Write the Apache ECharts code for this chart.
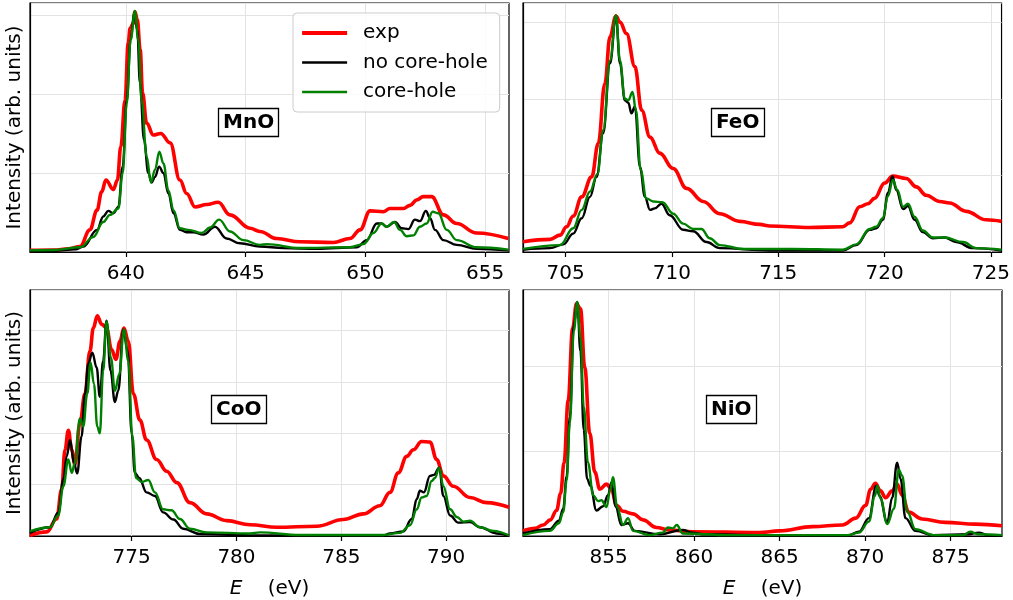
<!DOCTYPE html>
<html>
<head>
<meta charset="utf-8">
<script src="https://cdn.jsdelivr.net/npm/echarts@6/dist/echarts.min.js"></script>
<style>html,body{margin:0;padding:0;background:#fff;}#c{width:1013px;height:600px;}</style>
</head>
<body>
<div id="c"></div>
<script>
// ---------- data (E in eV, intensity in arb. units) ----------
const seriesNames = ['exp', 'no core-hole', 'core-hole'];
const panelLabels = ['MnO', 'FeO', 'CoO', 'NiO'];

const mnoTicks = [640, 645, 650, 655];
const feoTicks = [705, 710, 715, 720, 725];
const cooTicks = [775, 780, 785, 790];
const nioTicks = [855, 860, 865, 870, 875];

const mnoExp = [[636,0.02],[637,0.025],[637.6,0.04],[638.09,0.07],[638.5,0.28],[638.8,0.53],[638.99,0.76],[639.17,0.91],[639.48,0.79],[639.65,0.91],[639.79,1.33],[639.97,1.92],[640.1,2.64],[640.18,2.83],[640.31,2.89],[640.38,3.04],[640.48,2.94],[640.6,2.56],[640.7,2.01],[640.87,1.63],[641.15,1.48],[641.46,1.50],[641.85,1.38],[642.26,0.91],[642.54,0.74],[642.89,0.57],[643.38,0.60],[643.86,0.63],[644.35,0.47],[645.19,0.30],[645.6,0.26],[646.3,0.17],[647.27,0.13],[648.66,0.12],[649.36,0.17],[649.78,0.28],[650.2,0.52],[650.75,0.51],[651.03,0.55],[651.59,0.55],[651.87,0.59],[652.15,0.66],[652.42,0.70],[652.77,0.70],[653.26,0.47],[653.82,0.36],[654.65,0.24],[655.97,0.17]];
const mnoNoCH = [[636,0.01],[637,0.015],[637.9,0.034],[638.23,0.07],[638.8,0.28],[639.06,0.45],[639.27,0.52],[639.48,0.49],[639.69,0.57],[639.87,1.08],[640.04,1.92],[640.2,2.68],[640.35,3.02],[640.48,2.81],[640.59,2.14],[640.76,1.42],[640.94,1.0],[641.08,0.88],[641.22,0.95],[641.39,1.08],[641.57,1.0],[641.78,0.74],[641.99,0.49],[642.26,0.28],[642.54,0.25],[642.82,0.25],[643.24,0.22],[643.72,0.32],[644.21,0.17],[644.77,0.11],[645.6,0.07],[646.58,0.05],[647.97,0.04],[649.64,0.06],[650.06,0.15],[650.48,0.36],[650.68,0.36],[650.89,0.32],[651.24,0.38],[651.52,0.30],[651.8,0.29],[652.07,0.41],[652.28,0.39],[652.53,0.52],[652.7,0.43],[652.91,0.28],[653.26,0.15],[653.82,0.09],[654.65,0.04],[655.97,0.02]];
const mnoCH = [[636,0.02],[637,0.025],[638.1,0.06],[638.64,0.19],[639.06,0.38],[639.34,0.47],[639.69,0.55],[639.87,1.0],[640.04,1.88],[640.2,2.68],[640.38,3.05],[640.52,2.68],[640.66,1.92],[640.87,1.21],[641.05,0.88],[641.22,1.04],[641.4,1.27],[641.57,1.12],[641.78,0.78],[641.99,0.53],[642.26,0.30],[642.61,0.28],[643.17,0.24],[643.52,0.31],[643.9,0.41],[644.35,0.26],[644.91,0.15],[645.6,0.09],[645.88,0.10],[647.27,0.05],[649.36,0.06],[649.92,0.10],[650.34,0.24],[650.68,0.36],[650.89,0.32],[651.2,0.38],[651.45,0.28],[651.73,0.20],[652.01,0.21],[652.28,0.32],[652.56,0.36],[652.81,0.51],[653.05,0.49],[653.4,0.28],[653.82,0.15],[654.65,0.06],[655.97,0.03]];

const feoExp = [[703,0.134],[704.27,0.165],[704.74,0.22],[705.05,0.33],[705.36,0.47],[705.76,0.72],[706.23,0.98],[706.54,1.42],[706.85,2.2],[707.09,2.81],[707.37,3.08],[707.56,3.0],[707.87,2.85],[708.26,2.42],[708.58,1.85],[708.97,1.50],[709.43,1.29],[710.06,1.09],[710.69,0.83],[711.47,0.66],[712.25,0.50],[713.19,0.40],[714.13,0.36],[714.6,0.34],[716.48,0.32],[718.04,0.33],[718.36,0.38],[718.83,0.59],[719.22,0.63],[719.53,0.70],[720.0,0.90],[720.39,0.99],[721.02,0.96],[721.49,0.85],[721.96,0.74],[722.59,0.66],[723.06,0.64],[723.84,0.53],[724.78,0.42],[725.5,0.40]];
const feoNoCH = [[703,0.03],[704.27,0.05],[704.9,0.10],[705.36,0.24],[705.76,0.44],[706.15,0.72],[706.46,0.98],[706.77,1.55],[707.09,2.46],[707.37,3.07],[707.56,2.46],[707.79,1.98],[707.95,1.95],[708.1,1.81],[708.26,1.90],[708.5,1.11],[708.73,0.72],[708.97,0.55],[709.2,0.57],[709.51,0.63],[709.9,0.48],[710.53,0.29],[711.0,0.27],[711.63,0.13],[712.25,0.05],[714.6,0.02],[718.04,0.02],[718.67,0.09],[719.3,0.29],[719.61,0.31],[719.92,0.42],[720.16,0.77],[720.37,0.99],[720.55,0.81],[720.87,0.56],[721.1,0.60],[721.41,0.42],[721.8,0.26],[722.27,0.18],[722.82,0.19],[723.37,0.13],[724.15,0.05],[725.5,0.02]];
const feoCH = [[703,0.04],[704.74,0.09],[705.36,0.31],[705.76,0.55],[706.15,0.79],[706.5,1.02],[706.77,1.59],[707.09,2.5],[707.37,3.09],[707.56,2.5],[707.79,2.0],[707.95,1.98],[708.15,2.09],[708.31,1.85],[708.53,1.07],[708.8,0.70],[709.12,0.66],[709.55,0.65],[710.06,0.50],[710.53,0.37],[711.0,0.30],[711.39,0.30],[711.78,0.18],[712.25,0.09],[713.35,0.04],[715.7,0.04],[718.04,0.03],[718.67,0.10],[719.3,0.30],[719.61,0.33],[719.92,0.44],[720.16,0.73],[720.39,0.94],[720.6,0.81],[720.87,0.59],[721.1,0.63],[721.41,0.46],[721.8,0.28],[722.27,0.19],[722.82,0.19],[723.69,0.13],[724.31,0.05],[725.5,0.03]];

const cooExp = [[770.15,0.01],[770.95,0.08],[771.42,0.33],[771.66,0.91],[771.82,1.68],[771.98,2.06],[772.14,1.68],[772.29,1.39],[772.53,2.19],[772.77,2.77],[773.01,3.60],[773.17,4.05],[773.36,4.29],[773.57,4.12],[773.8,4.05],[774.04,3.63],[774.25,3.44],[774.44,3.79],[774.63,4.05],[774.84,3.79],[775.08,2.77],[775.39,2.26],[775.71,1.87],[776.19,1.49],[776.67,1.26],[777.15,1.04],[777.78,0.65],[778.58,0.43],[779.53,0.30],[780.65,0.22],[781.92,0.17],[783.83,0.19],[785.1,0.32],[786.05,0.43],[786.84,0.59],[787.32,0.85],[787.72,1.23],[788.12,1.55],[788.44,1.68],[788.83,1.84],[789.23,1.83],[789.55,1.49],[789.87,1.17],[790.34,0.97],[791.14,0.75],[791.93,0.65],[793,0.56]];
const cooNoCH = [[770.15,0.06],[771.1,0.17],[771.5,0.46],[771.74,1.10],[771.9,1.55],[772.06,1.87],[772.25,1.42],[772.4,1.22],[772.61,1.94],[772.77,2.77],[772.93,3.35],[773.12,3.57],[773.33,3.28],[773.48,2.71],[773.64,3.41],[773.8,4.19],[773.99,3.22],[774.2,2.61],[774.36,2.83],[774.6,4.02],[774.81,3.60],[775.0,2.0],[775.15,1.23],[775.36,1.13],[775.71,0.85],[776.11,0.78],[776.5,0.46],[776.99,0.32],[777.46,0.14],[778.25,0.04],[781,0.01],[787,0.01],[787.32,0.05],[787.96,0.09],[788.36,0.33],[788.6,0.72],[788.75,0.88],[788.94,0.85],[789.23,1.17],[789.42,1.19],[789.67,1.33],[789.87,0.78],[790.19,0.40],[790.58,0.26],[791.14,0.27],[791.61,0.17],[792.41,0.05],[793,0.01]];
const cooCH = [[770.15,0.09],[771.1,0.17],[771.5,0.40],[771.74,0.97],[771.98,1.49],[772.14,1.23],[772.29,1.42],[772.53,2.29],[772.69,2.13],[772.88,2.77],[773.04,3.38],[773.2,2.96],[773.36,2.13],[773.48,2.0],[773.64,3.22],[773.8,4.18],[774.01,3.47],[774.2,2.83],[774.41,3.15],[774.63,4.02],[774.84,3.41],[775.03,1.94],[775.21,1.13],[775.48,1.05],[775.79,1.09],[776.11,0.85],[776.5,0.52],[776.9,0.50],[777.3,0.33],[777.78,0.14],[778.58,0.07],[780.65,0.05],[781.12,0.07],[783.03,0.02],[787.0,0.02],[787.8,0.06],[788.28,0.21],[788.6,0.52],[788.83,0.75],[789.07,0.78],[789.31,1.07],[789.47,1.13],[789.67,1.33],[789.87,0.97],[790.19,0.52],[790.51,0.37],[790.83,0.28],[791.14,0.30],[791.61,0.17],[792.25,0.10],[793,0.01]];

const nioExp = [[850,0.06],[850.7,0.09],[851.18,0.13],[851.6,0.19],[851.96,0.30],[852.2,0.50],[852.4,0.86],[852.64,1.59],[852.9,2.44],[853.13,2.73],[853.36,2.67],[853.61,1.98],[853.9,1.21],[854.2,0.75],[854.49,0.55],[854.88,0.61],[855.17,0.55],[855.46,0.36],[855.85,0.29],[856.43,0.26],[857.01,0.19],[857.79,0.10],[858.57,0.07],[859.92,0.05],[863.81,0.04],[864.98,0.06],[866.92,0.11],[868.67,0.13],[869.45,0.21],[870.03,0.36],[870.32,0.55],[870.6,0.62],[870.9,0.53],[871.19,0.45],[871.58,0.53],[871.87,0.61],[872.16,0.48],[872.55,0.28],[873.33,0.20],[874.69,0.16],[876.44,0.14],[878,0.12]];
const nioNoCH = [[850,0.03],[851.57,0.08],[852.1,0.18],[852.35,0.32],[852.55,0.70],[852.74,1.40],[852.97,2.48],[853.17,2.75],[853.36,2.17],[853.55,1.25],[853.75,0.67],[853.94,0.59],[854.29,0.30],[854.68,0.35],[854.97,0.48],[855.17,0.63],[855.42,0.34],[855.75,0.13],[856.14,0.15],[856.53,0.06],[857.98,0.02],[859.34,0.07],[859.92,0.04],[860.5,0.02],[864,0.01],[869,0.01],[869.64,0.05],[870.22,0.21],[870.65,0.59],[870.84,0.47],[871.29,0.16],[871.58,0.45],[871.87,0.86],[872.07,0.67],[872.36,0.21],[872.94,0.06],[874,0.01],[876.05,0.02],[876.63,0.04],[877.2,0.01],[878,0.01]];
const nioCH = [[850,0.01],[851.57,0.06],[852.1,0.15],[852.35,0.28],[852.55,0.65],[852.74,1.33],[852.97,2.41],[853.17,2.75],[853.36,2.33],[853.55,1.52],[853.8,0.86],[854.1,0.48],[854.39,0.41],[854.59,0.42],[854.88,0.34],[855.11,0.55],[855.26,0.69],[855.5,0.34],[855.85,0.13],[856.14,0.21],[856.43,0.06],[857.4,0.01],[858.17,0.04],[858.47,0.10],[858.76,0.09],[858.99,0.13],[859.34,0.03],[862,0.01],[869,0.01],[869.64,0.04],[870.22,0.17],[870.57,0.47],[870.71,0.59],[870.9,0.44],[871.29,0.14],[871.68,0.32],[871.97,0.78],[872.16,0.71],[872.45,0.29],[872.94,0.08],[874,0.01],[875.7,0.01],[876.15,0.05],[876.6,0.02],[878,0.01]];

// ---------- layout ----------
const FONT = 'DejaVu Sans';
const panels = [
  {grid:{left:30, top:3, width:479, height:249},  xr:[636,656],      yMax:3.15, ticks:mnoTicks, data:[mnoExp,mnoNoCH,mnoCH], label:{left:218, top:108}, yName:true,  xName:false},
  {grid:{left:523, top:3, width:479, height:249}, xr:[703,725.5],    yMax:3.25, ticks:feoTicks, data:[feoExp,feoNoCH,feoCH], label:{left:711, top:108}, yName:false, xName:false},
  {grid:{left:30, top:290, width:479, height:249},xr:[770.15,793],   yMax:4.79, ticks:cooTicks, data:[cooExp,cooNoCH,cooCH], label:{left:211, top:395}, yName:true,  xName:true},
  {grid:{left:523, top:290, width:479, height:249},xr:[850,878],     yMax:2.89, ticks:nioTicks, data:[nioExp,nioNoCH,nioCH], label:{left:706, top:395}, yName:false, xName:true}
];
const colors = ['#ff0000', '#000000', '#008000'];
const widths = [3.6, 2.4, 2.4];
const legendWidths = [4.2, 2.6, 2.6];

const option = {
  animation:false,
  backgroundColor:'#ffffff',
  grid: panels.map(p => Object.assign({show:true, borderColor:'#000', borderWidth:1.2, backgroundColor:'transparent'}, p.grid)),
  xAxis: panels.map((p,i) => ({
    type:'value', gridIndex:i, min:p.xr[0], max:p.xr[1],
    axisLine:{show:true, onZero:false, lineStyle:{color:'#000', width:1.2}},
    axisTick:{show:true, inside:false, length:5, customValues:p.ticks, lineStyle:{color:'#000', width:1.2}},
    axisLabel:{show:true, customValues:p.ticks, margin:12, color:'#000', fontSize:20, fontFamily:FONT},
    splitLine:{show:true, lineStyle:{color:'#e3e3e3', width:1}},
    name: p.xName ? '{i|E}    (eV)' : '',
    nameLocation:'middle', nameGap:43,
    nameTextStyle:{color:'#000', fontSize:20, fontFamily:FONT, rich:{i:{fontStyle:'italic', fontSize:20, fontFamily:FONT, color:'#000'}}}
  })),
  yAxis: panels.map((p,i) => ({
    type:'value', gridIndex:i, min:0, max:p.yMax, interval:1,
    axisLine:{show:true, lineStyle:{color:'#000', width:1.2}},
    axisTick:{show:false},
    axisLabel:{show:false},
    splitLine:{show:true, lineStyle:{color:'#e3e3e3', width:1}},
    name: p.yName ? 'Intensity (arb. units)' : '',
    nameLocation:'middle', nameGap:5, nameRotate:90,
    nameTextStyle:{color:'#000', fontSize:20, fontFamily:FONT}
  })),
  legend:{
    data: seriesNames.map((n,k) => ({name:n, lineStyle:{width:legendWidths[k], color:colors[k]}})),
    orient:'vertical', left:293, top:13,
    padding:[10,12,10,7], itemGap:9.5, itemWidth:45, itemHeight:14,
    itemStyle:{opacity:0},
    backgroundColor:'rgba(255,255,255,0.85)', borderColor:'#cccccc', borderWidth:1, borderRadius:4,
    textStyle:{color:'#000', fontSize:20, fontFamily:FONT, padding:[0,0,0,11]}
  },
  title: panels.map((p,i) => ({
    text:panelLabels[i], left:p.label.left, top:p.label.top,
    padding:[3,5], borderColor:'#000', borderWidth:1.3, backgroundColor:'#ffffff',
    textStyle:{fontSize:20, fontWeight:'bold', color:'#000', fontFamily:FONT, lineHeight:23}
  })),
  series: []
};

panels.forEach((p,i) => {
  p.data.forEach((d,k) => {
    option.series.push({
      type:'line', name:seriesNames[k], xAxisIndex:i, yAxisIndex:i,
      data:d, symbol:'none', smooth:0.4, smoothMonotone:'x',
      lineStyle:{color:colors[k], width:widths[k]}, itemStyle:{color:colors[k]},
      z: 2 + k
    });
  });
});

const chart = echarts.init(document.getElementById('c'), null, {renderer:'canvas'});
chart.setOption(option);
</script>
</body>
</html>
